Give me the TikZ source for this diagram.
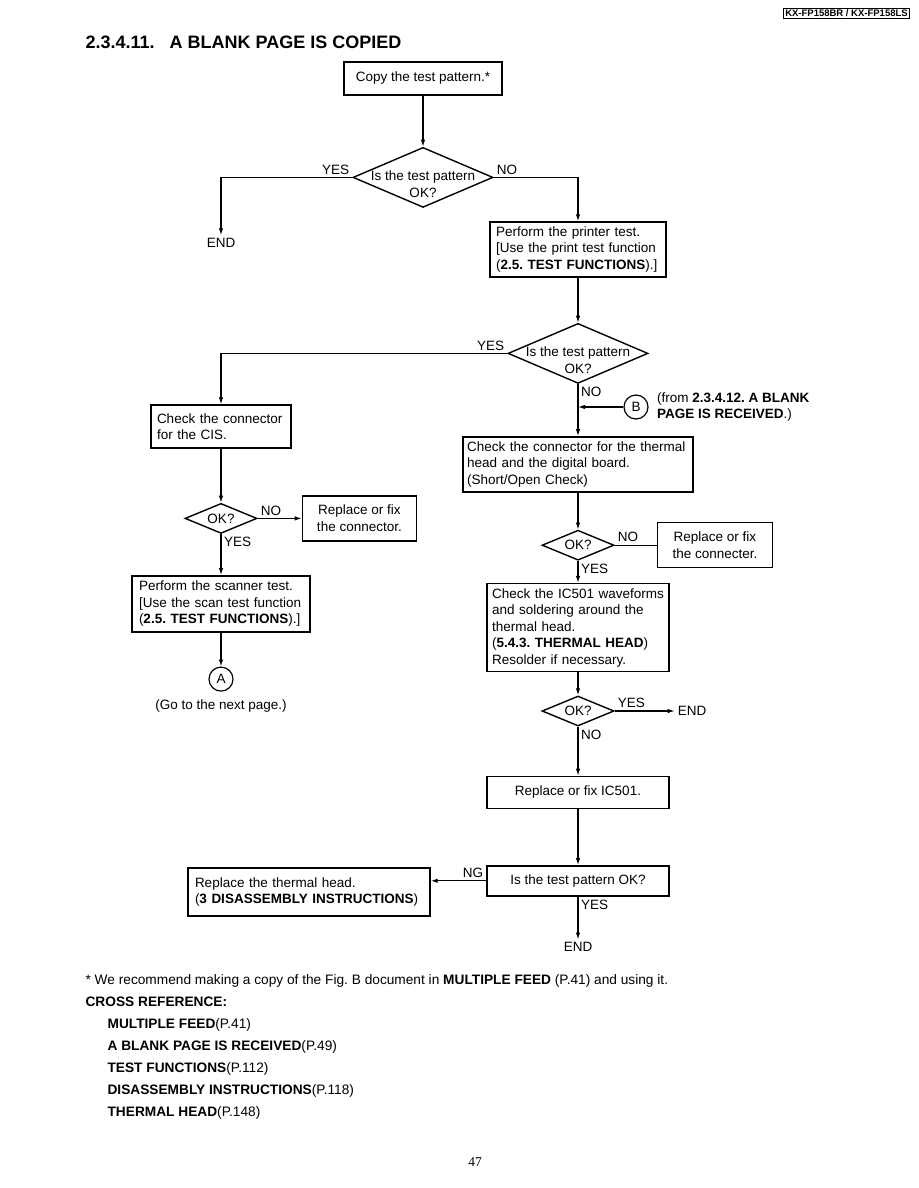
\documentclass[tikz,border=0pt]{standalone}
\usepackage{fontspec}
\setmainfont{Liberation Sans}
\newfontfamily\pagenumfont{Liberation Serif}
\usetikzlibrary{arrows.meta,positioning,shapes.geometric}
\frenchspacing
\hyphenpenalty=10000
\exhyphenpenalty=10000

\begin{document}
\begin{tikzpicture}[
  x=1pt, y=-1pt, font=\fontsize{13.5}{16.5}\selectfont, >={Latex[length=7pt,width=4.5pt]},
  line width=1.2pt, node distance=40pt,
  b/.style={draw, line width=1.4pt, align=left, inner xsep=6pt, inner ysep=3pt},
  bc/.style={b, align=center},
  q/.style={draw, diamond, aspect=2.4, line width=1.4pt, inner sep=0pt, minimum width=72pt, minimum height=30pt},
  bigq/.style={q, minimum width=140pt, minimum height=60pt},
  con/.style={draw, circle, line width=1.2pt, minimum size=24pt, inner sep=0pt},
  lbl/.style={inner sep=2.5pt},
  ref/.style={anchor=base west, inner sep=0pt, font=\fontsize{13.7}{15}\selectfont}]
\useasboundingbox (0,0) rectangle (918,1188);
% heading
\node[draw, line width=0.8pt, inner xsep=2pt, inner ysep=1.5pt, font=\bfseries\fontsize{9.5}{10}\selectfont] (model) at (846.5,13.5) {KX-FP158BR / KX-FP158LS};
\node[anchor=base west, inner sep=0pt, font=\bfseries\fontsize{18}{20}\selectfont] (title) at (85,49) {2.3.4.11.\hspace{15pt}A BLANK PAGE IS COPIED};
% printer side
\node[bc, minimum width=158pt, minimum height=33pt] (copy) at (423,78.5) {Copy the test pattern.*};
\node[bigq, below=51pt of copy, label={[align=center, yshift=-7pt]center:Is the test pattern\\OK?}] (q1) {};
\node[lbl] (end1) at (221,243) {END};
\node[b, text width=164pt, minimum height=55pt] (prt) at (578,249.5) {Perform the printer test.\\{[}Use the print test function\\(\textbf{2.5. TEST FUNCTIONS}).]};
\node[bigq, below=45pt of prt, label={[align=center, yshift=-7pt]center:Is the test pattern\\OK?}] (q2) {};
\node[b, inner xsep=4pt, text width=222pt, minimum height=55pt, below=52pt of q2] (thc) {Check the connector for the thermal\\head and the digital board.\\(Short/Open Check)};
\node[con] (B) at (636,407) {B};
\node[align=left, inner sep=0pt, right=8pt of B] (from) {(from \textbf{2.3.4.12. A BLANK}\\\textbf{PAGE IS RECEIVED}.)};
% scanner side
\node[b, text width=128pt, minimum height=43pt] (cis) at (221,426.5) {Check the connector\\for the CIS.};
\node[q, below=54pt of cis] (q3) {OK?};
\node[bc, minimum width=114pt, minimum height=45pt, right=44pt of q3] (fixc) {Replace or fix\\the connector.};
\node[b, inner xsep=7pt, text width=164pt, minimum height=56pt, below=41pt of q3] (scan) {Perform the scanner test.\\{[}Use the scan test function\\(\textbf{2.5. TEST FUNCTIONS}).]};
\node[con, below=34pt of scan] (A) {A};
\node[below=4pt of A] (next) {(Go to the next page.)};
% thermal head
\node[q, below=37pt of thc] (q4) {OK?};
\node[bc, minimum width=115pt, minimum height=45pt, right=42pt of q4] (fixc2) {Replace or fix\\the connecter.};
\node[b, inner xsep=5pt, text width=172pt, minimum height=88pt, below=22pt of q4] (ic) {Check the IC501 waveforms\\and soldering around the\\thermal head.\\(\textbf{5.4.3. THERMAL HEAD})\\Resolder if necessary.};
\node[q, below=23pt of ic] (q5) {OK?};
\node[lbl, right=60pt of q5] (end2) {END};
\node[bc, minimum width=182pt, minimum height=32pt, below=49pt of q5] (fixic) {Replace or fix IC501.};
\node[bc, minimum width=182pt, minimum height=30pt, below=56pt of fixic] (istp) {Is the test pattern OK?};
\node[lbl, below=43pt of istp] (end3) {END};
\node[b, inner xsep=7pt, text width=228pt, minimum height=48pt] (rth) at (309,892) {Replace the thermal head.\\(\textbf{3 DISASSEMBLY INSTRUCTIONS})};
% connectors
\draw[->] (copy) -- (q1);
\draw[->] (q1.west) node[lbl, above left]{YES} -| (end1.north);
\draw[->] (q1.east) node[lbl, above right]{NO} -| (prt.north);
\draw[->] (prt) -- (q2);
\draw[->] (q2.west) node[lbl, above left]{YES} -| (cis.north);
\draw[->] (q2.south) node[lbl, below right]{NO} -- (thc.north);
\draw[->] (B.west) -- (B.west -| thc.north);
\draw[->] (cis) -- (q3);
\draw[->] (q3.east) node[lbl, above right]{NO} -- (q3.east -| fixc.west);
\draw[->] (q3.south) node[lbl, below right]{YES} -- (scan.north);
\draw[->] (scan) -- (A);
\draw[->] (thc) -- (q4);
\draw (q4.east) node[lbl, above right]{NO} -- (q4.east -| fixc2.west);
\draw[->] (q4.south) node[lbl, below right]{YES} -- (ic.north);
\draw[->] (ic) -- (q5);
\draw[->] (q5.east) node[lbl, above right]{YES} -- (end2);
\draw[->] (q5.south) node[lbl, below right]{NO} -- (fixic.north);
\draw[->] (fixic) -- (istp);
\draw[->] (istp.west) node[lbl, above left]{NG} -- (istp.west -| rth.east);
\draw[->] (istp.south) node[lbl, below right]{YES} -- (end3);
% notes
\node[ref] (note) at (85,984.5) {* We recommend making a copy of the Fig. B document in \textbf{MULTIPLE FEED} (P.41) and using it.};
\node[ref, font=\fontsize{13.7}{15}\selectfont\bfseries] (xref) at (85,1006.5) {CROSS REFERENCE:};
\foreach \ttl/\pg [count=\i] in {MULTIPLE FEED/41, A BLANK PAGE IS RECEIVED/49, TEST FUNCTIONS/112, DISASSEMBLY INSTRUCTIONS/118, THERMAL HEAD/148}
  \node[ref] (xr\i) at (107,{1006.5+22*\i}) {\textbf{\ttl}(P.\pg)};
\node[font=\pagenumfont\fontsize{13.5}{15}\selectfont] (pg) at (475,1162) {47};
\end{tikzpicture}
\end{document}
